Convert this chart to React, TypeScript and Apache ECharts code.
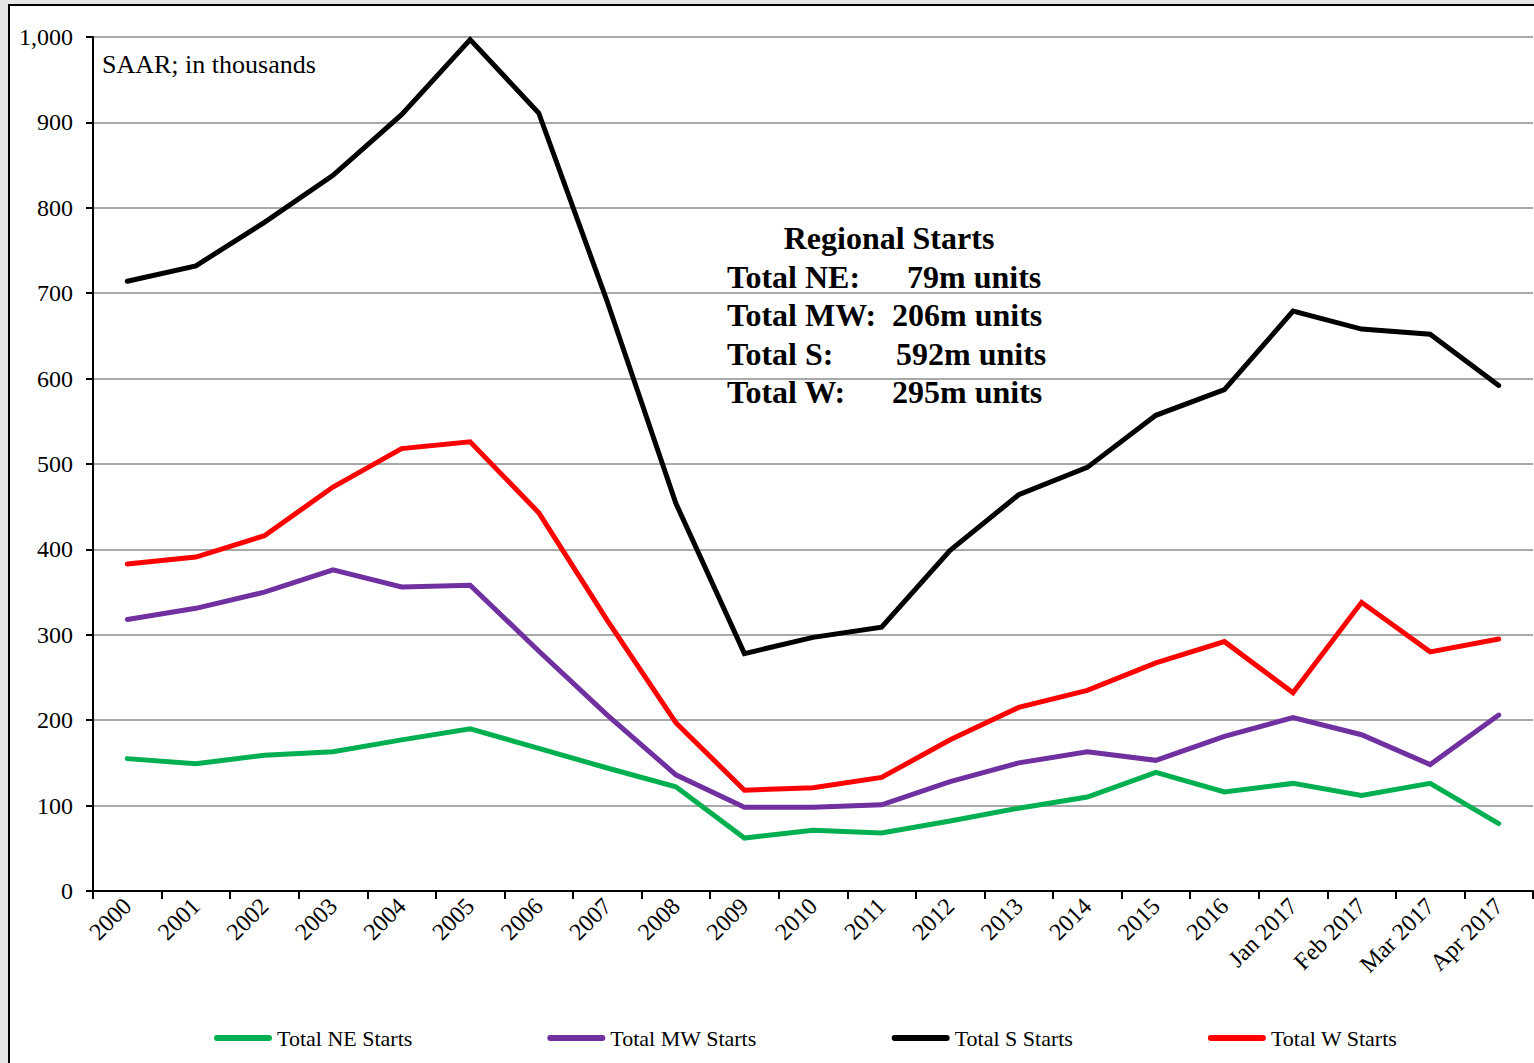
import React, { useEffect, useRef } from "react";
import * as echarts from "echarts";

const categories = ["2000","2001","2002","2003","2004","2005","2006","2007","2008","2009","2010","2011","2012","2013","2014","2015","2016","Jan 2017","Feb 2017","Mar 2017","Apr 2017"];
const neStarts = [155,149,159,163,177,190,167,144,122,62,71,68,82,97,110,139,116,126,112,126,79];
const mwStarts = [318,331,350,376,356,358,281,206,136,98,98,101,128,150,163,153,181,203,183,148,206];
const sStarts = [714,732,783,838,909,997,911,690,454,278,297,309,399,464,496,557,587,679,658,652,592];
const wStarts = [383,391,416,473,518,526,443,317,197,118,121,133,177,215,235,267,292,232,338,280,295];
const yTicks = { min: 0, max: 1000, interval: 100 };

const FONT = "'Liberation Serif', 'Times New Roman', serif";
const CAPSULE = "path://M3,0 L55,0 A3,3 0 0 1 55,6 L3,6 A3,3 0 0 1 3,0 Z";

export default function App() {
  const ref = useRef<HTMLDivElement>(null);
  useEffect(() => {
    if (!ref.current) return;
    const chart = echarts.init(ref.current, undefined, { renderer: "svg" });
    const mk = (name: string, data: number[], color: string) => ({
      name,
      type: "line",
      data,
      symbol: "none",
      showSymbol: false,
      lineStyle: { color, width: 5, cap: "round", join: "miter" },
      itemStyle: { color },
    });
    const bold = `bold 32px ${FONT}`;
    const t = (text: string, x: number, y: number, align = "left") => ({
      type: "text",
      x,
      y,
      style: { text, font: bold, fill: "#000", textAlign: align, textVerticalAlign: "middle" },
    });
    chart.setOption({
      animation: false,
      backgroundColor: "transparent",
      textStyle: { fontFamily: FONT },
      grid: { left: 93, top: 37, width: 1440, height: 854, containLabel: false },
      xAxis: {
        type: "category",
        data: categories,
        boundaryGap: true,
        axisLine: { show: true, lineStyle: { color: "#000", width: 2 } },
        axisTick: { show: true, length: 8, lineStyle: { color: "#000", width: 2 } },
        axisLabel: { rotate: 45, fontSize: 24, color: "#000", fontFamily: FONT, margin: 11, interval: 0 },
        splitLine: { show: false },
      },
      yAxis: {
        type: "value",
        min: yTicks.min,
        max: yTicks.max,
        interval: yTicks.interval,
        axisLine: { show: true, lineStyle: { color: "#000", width: 2 } },
        axisTick: { show: true, length: 7, lineStyle: { color: "#000", width: 2 } },
        axisLabel: {
          fontSize: 24,
          color: "#000",
          fontFamily: FONT,
          margin: 20,
          formatter: (v: number) => v.toLocaleString("en-US"),
        },
        splitLine: { show: true, lineStyle: { color: "#8c8c8c", width: 1.5 } },
      },
      legend: {
        left: 209,
        top: 1022,
        itemGap: 135,
        itemWidth: 58,
        itemHeight: 6,
        icon: CAPSULE,
        textStyle: { fontSize: 22, color: "#000", fontFamily: FONT },
        data: ["Total NE Starts", "Total MW Starts", "Total S Starts", "Total W Starts"],
      },
      graphic: [
        { type: "text", left: 102, top: 51, style: { text: "SAAR; in thousands", font: `26px ${FONT}`, fill: "#000" } },
        t("Regional Starts", 889, 238, "center"),
        t("Total NE:", 727, 277),
        t("79m units", 907, 277),
        t("Total MW:", 727, 315),
        t("206m units", 892, 315),
        t("Total S:", 727, 354),
        t("592m units", 896, 354),
        t("Total W:", 727, 392),
        t("295m units", 892, 392),
      ],
      series: [
        mk("Total NE Starts", neStarts, "#00b050"),
        mk("Total MW Starts", mwStarts, "#7030a0"),
        mk("Total S Starts", sStarts, "#000000"),
        mk("Total W Starts", wStarts, "#ff0000"),
      ],
    });
    return () => chart.dispose();
  }, []);

  return (
    <div style={{ position: "fixed", left: 0, top: 0, width: 1534, height: 1063, overflow: "hidden", background: "#e6e6e6" }}>
      <div style={{ position: "absolute", left: 8, top: 4, width: 1560, height: 1100, background: "#fff", border: "2px solid #000" }} />
      <div ref={ref} style={{ position: "absolute", left: 0, top: 0, width: 1534, height: 1063 }} />
    </div>
  );
}
